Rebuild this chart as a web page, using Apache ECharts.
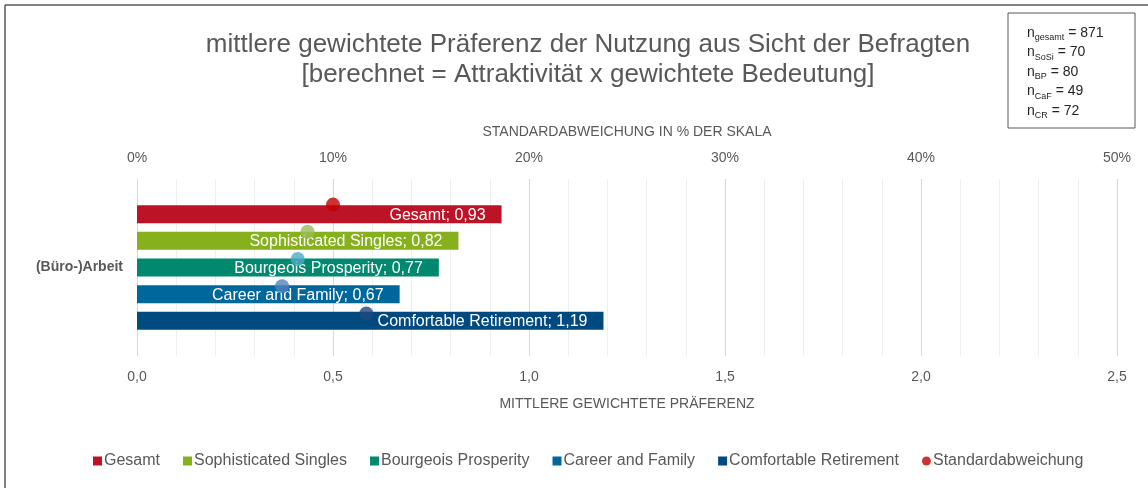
<!DOCTYPE html>
<html>
<head>
<meta charset="utf-8">
<script src="https://cdn.jsdelivr.net/npm/echarts@6/dist/echarts.min.js"></script>
<style>
  html, body { margin: 0; padding: 0; background: #fff; }
  #chart { width: 1148px; height: 488px; }
</style>
</head>
<body>
<div id="chart"></div>
<script>
const category = ['(Büro-)Arbeit']
const segments = ['Gesamt', 'Sophisticated Singles', 'Bourgeois Prosperity', 'Career and Family', 'Comfortable Retirement']
const preference = [0.93, 0.82, 0.77, 0.67, 1.19]
const stdDevPercent = [10.0, 8.7, 8.2, 7.4, 11.7]
const sampleSizes = [['gesamt', 871], ['SoSi', 70], ['BP', 80], ['CaF', 49], ['CR', 72]]

const barColors = ['#bd1327', '#86b11c', '#00896f', '#00679d', '#004a80']
const dotColors = ['#c00000', '#9bbb59', '#4bacc6', '#4f81bd', '#1f497d']
const textColor = '#595959'
const font = '"Liberation Sans", Arial, sans-serif'

const fmt = (v, d) => v.toFixed(d).replace('.', ',')

const myChart = echarts.init(document.getElementById('chart'))

const barSeries = segments.map((name, i) => ({
  name: name,
  type: 'bar',
  xAxisIndex: 0,
  yAxisIndex: 0,
  data: [preference[i]],
  barWidth: 18,
  barGap: '48%',
  itemStyle: { color: barColors[i] },
  label: {
    show: true,
    position: 'insideRight',
    distance: 16,
    offset: [0, 1],
    color: '#fff',
    fontSize: 16,
    fontFamily: font,
    formatter: (p) => p.seriesName + '; ' + fmt(p.value, 2),
  },
  z: 2,
}))

const nText = sampleSizes.map(([sub, n]) => '{n|n}{s|' + sub + '}{n| = ' + n + '}').join('\n')

const option = {
  animation: false,
  textStyle: { fontFamily: font },
  title: {
    text: 'mittlere gewichtete Präferenz der Nutzung aus Sicht der Befragten\n[berechnet = Attraktivität x gewichtete Bedeutung]',
    left: 583,
    top: 25,
    textAlign: 'center',
    textStyle: {
      fontSize: 26,
      lineHeight: 30,
      fontWeight: 'normal',
      color: textColor,
      fontFamily: font,
    },
  },
  legend: {
    top: 448,
    left: 88,
    itemGap: 23,
    itemWidth: 9,
    itemHeight: 9,
    textStyle: { color: textColor, fontSize: 16, fontFamily: font, padding: [0, 0, 0, -3] },
    data: segments.map((s) => ({ name: s, icon: 'rect' })).concat([{ name: 'Standardabweichung', icon: 'circle' }]),
  },
  grid: [
    { left: 137, right: 31, top: 179, bottom: 132 },
    { left: 137, right: 31, top: 191, bottom: 161 },
  ],
  xAxis: [
    {
      gridIndex: 0,
      type: 'value',
      position: 'bottom',
      min: 0,
      max: 2.5,
      interval: 0.5,
      axisLine: { show: false },
      axisTick: { show: false },
      axisLabel: { color: textColor, fontSize: 14, margin: 14, formatter: (v) => fmt(v, 1) },
      splitLine: { lineStyle: { color: '#d9d9d9', width: 1 } },
      minorSplitLine: { show: true, lineStyle: { color: '#efefef', width: 1 } },
      minorTick: { splitNumber: 5 },
      name: 'MITTLERE GEWICHTETE PRÄFERENZ',
      nameLocation: 'middle',
      nameGap: 41,
      nameTextStyle: { color: textColor, fontSize: 14 },
    },
    {
      gridIndex: 0,
      type: 'value',
      position: 'top',
      min: 0,
      max: 50,
      interval: 10,
      axisLine: { show: false },
      axisTick: { show: false },
      splitLine: { show: false },
      axisLabel: { color: textColor, fontSize: 14, margin: 14, formatter: '{value}%' },
      name: 'STANDARDABWEICHUNG IN % DER SKALA',
      nameLocation: 'middle',
      nameGap: 40,
      nameTextStyle: { color: textColor, fontSize: 14 },
    },
    {
      gridIndex: 1,
      type: 'value',
      min: 0,
      max: 50,
      show: false,
    },
  ],
  yAxis: [
    {
      gridIndex: 0,
      type: 'category',
      data: category,
      inverse: true,
      axisLine: { show: true, lineStyle: { color: '#d9d9d9' } },
      axisTick: { show: false },
      axisLabel: { color: textColor, fontSize: 14, fontWeight: 'bold', margin: 14 },
    },
    {
      gridIndex: 1,
      type: 'category',
      data: segments,
      inverse: true,
      show: false,
    },
  ],
  series: barSeries.concat([
    {
      name: 'Standardabweichung',
      type: 'scatter',
      xAxisIndex: 2,
      yAxisIndex: 1,
      symbolSize: 14,
      itemStyle: { color: dotColors[0] },
      data: segments.map((s, i) => ({ value: [stdDevPercent[i], s], itemStyle: { color: dotColors[i] } })),
      z: 3,
    },
  ]),
  graphic: [
    { type: 'line', shape: { x1: 5, y1: 5, x2: 1148, y2: 5 }, style: { stroke: '#595959', lineWidth: 1.5 } },
    { type: 'line', shape: { x1: 5, y1: 5, x2: 5, y2: 488 }, style: { stroke: '#595959', lineWidth: 1.5 } },
    {
      type: 'rect',
      shape: { x: 1008, y: 13, width: 127, height: 115 },
      style: { fill: '#fff', stroke: '#595959', lineWidth: 1 },
    },
    {
      type: 'text',
      x: 1027,
      y: 23,
      style: {
        text: nText,
        fill: '#262626',
        font: '14px ' + font,
        rich: {
          n: { fontSize: 14, lineHeight: 19.5, fill: '#262626', fontFamily: font },
          s: { fontSize: 9, lineHeight: 9, verticalAlign: 'bottom', fill: '#262626', fontFamily: font },
        },
      },
    },
  ],
}

myChart.setOption(option)
</script>
</body>
</html>
